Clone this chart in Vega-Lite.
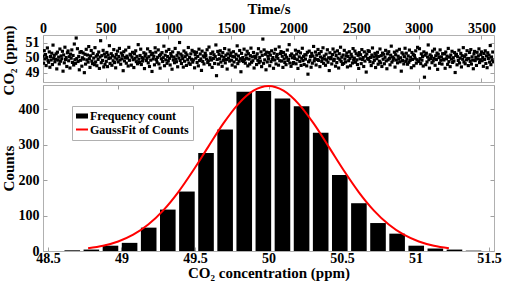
{
"$schema":"https://vega.github.io/schema/vega-lite/v6.json",
"background":"white",
"padding":{"left":0,"top":1,"right":0,"bottom":0},
"spacing":3,
"bounds":"flush",
"config":{
"view":{"stroke":"#b0b0b0"},
"axis":{"domain":false,"grid":false,"tickSize":-4,"tickColor":"#a0a0a0","labelFont":"Liberation Serif","labelFontSize":14,"labelFontWeight":"bold","labelColor":"#000","titleFont":"Liberation Serif","titleFontSize":15,"titleFontWeight":"bold","titleColor":"#000","labelFlush":false,"labelOverlap":false}
},
"datasets":{
"series":[
{"t":0,"c":50.12},{"t":5,"c":49.65},{"t":10,"c":50.48},{"t":15,"c":49.93},{"t":20,"c":50.22},{"t":25,"c":49.49},{"t":30,"c":50.03},{"t":35,"c":50.66},{"t":40,"c":49.82},{"t":45,"c":49.71},{"t":50,"c":50.40},{"t":55,"c":49.38},{"t":60,"c":50.09},{"t":65,"c":49.86},{"t":70,"c":50.31},{"t":75,"c":49.56},{"t":80,"c":50.85},{"t":85,"c":49.97},{"t":90,"c":50.17},{"t":95,"c":49.74},
{"t":100,"c":49.91},{"t":105,"c":50.27},{"t":110,"c":49.27},{"t":115,"c":50.38},{"t":120,"c":49.85},{"t":125,"c":50.05},{"t":130,"c":49.60},{"t":135,"c":50.59},{"t":140,"c":49.78},{"t":145,"c":50.13},{"t":150,"c":49.94},{"t":155,"c":50.44},{"t":160,"c":49.12},{"t":165,"c":50.20},{"t":170,"c":49.67},{"t":175,"c":50.71},{"t":180,"c":49.89},{"t":185,"c":50.02},{"t":190,"c":49.43},{"t":195,"c":50.34},
{"t":200,"c":50.46},{"t":205,"c":49.81},{"t":210,"c":50.08},{"t":215,"c":49.33},{"t":220,"c":50.25},{"t":225,"c":49.98},{"t":230,"c":50.53},{"t":235,"c":49.70},{"t":240,"c":50.16},{"t":245,"c":49.53},{"t":250,"c":50.92},{"t":255,"c":49.88},{"t":260,"c":49.64},{"t":265,"c":51.32},{"t":270,"c":49.96},{"t":275,"c":50.61},{"t":280,"c":49.76},{"t":285,"c":50.10},{"t":290,"c":49.21},{"t":295,"c":50.37},
{"t":300,"c":49.84},{"t":305,"c":50.42},{"t":310,"c":49.45},{"t":315,"c":50.01},{"t":320,"c":50.33},{"t":325,"c":49.92},{"t":330,"c":49.02},{"t":335,"c":50.24},{"t":340,"c":49.59},{"t":345,"c":50.57},{"t":350,"c":49.87},{"t":355,"c":50.19},{"t":360,"c":49.72},{"t":365,"c":50.75},{"t":370,"c":49.95},{"t":375,"c":49.37},{"t":380,"c":50.14},{"t":385,"c":50.49},{"t":390,"c":49.79},{"t":395,"c":49.62},
{"t":400,"c":50.30},{"t":405,"c":49.99},{"t":410,"c":49.55},{"t":415,"c":50.68},{"t":420,"c":49.73},{"t":425,"c":50.11},{"t":430,"c":49.48},{"t":435,"c":50.21},{"t":440,"c":49.90},{"t":445,"c":50.39},{"t":450,"c":49.30},{"t":455,"c":50.06},{"t":460,"c":51.14},{"t":465,"c":49.68},{"t":470,"c":50.15},{"t":475,"c":49.83},{"t":480,"c":50.50},{"t":485,"c":49.40},{"t":490,"c":50.26},{"t":495,"c":49.57},
{"t":500,"c":50.07},{"t":505,"c":49.77},{"t":510,"c":50.36},{"t":515,"c":49.42},{"t":520,"c":50.18},{"t":525,"c":49.96},{"t":530,"c":50.81},{"t":535,"c":49.63},{"t":540,"c":50.00},{"t":545,"c":50.28},{"t":550,"c":49.51},{"t":555,"c":50.14},{"t":560,"c":49.81},{"t":565,"c":50.55},{"t":570,"c":49.69},{"t":575,"c":50.04},{"t":580,"c":49.34},{"t":585,"c":50.23},{"t":590,"c":49.92},{"t":595,"c":50.45},
{"t":600,"c":49.73},{"t":605,"c":50.09},{"t":610,"c":50.63},{"t":615,"c":49.86},{"t":620,"c":49.58},{"t":625,"c":50.32},{"t":630,"c":49.94},{"t":635,"c":50.17},{"t":640,"c":49.15},{"t":645,"c":50.41},{"t":650,"c":49.80},{"t":655,"c":50.03},{"t":660,"c":50.52},{"t":665,"c":49.65},{"t":670,"c":50.12},{"t":675,"c":49.99},{"t":680,"c":49.46},{"t":685,"c":50.70},{"t":690,"c":49.84},{"t":695,"c":50.24},
{"t":700,"c":50.19},{"t":705,"c":49.52},{"t":710,"c":50.05},{"t":715,"c":50.37},{"t":720,"c":49.88},{"t":725,"c":49.36},{"t":730,"c":50.28},{"t":735,"c":49.97},{"t":740,"c":50.47},{"t":745,"c":49.75},{"t":750,"c":50.10},{"t":755,"c":49.61},{"t":760,"c":50.88},{"t":765,"c":49.91},{"t":770,"c":49.70},{"t":775,"c":50.16},{"t":780,"c":50.58},{"t":785,"c":49.56},{"t":790,"c":50.02},{"t":795,"c":49.79},
{"t":800,"c":49.95},{"t":805,"c":50.34},{"t":810,"c":49.29},{"t":815,"c":50.13},{"t":820,"c":50.26},{"t":825,"c":49.82},{"t":830,"c":49.98},{"t":835,"c":50.60},{"t":840,"c":49.67},{"t":845,"c":50.08},{"t":850,"c":49.43},{"t":855,"c":50.42},{"t":860,"c":49.85},{"t":865,"c":50.21},{"t":870,"c":49.10},{"t":875,"c":50.31},{"t":880,"c":49.93},{"t":885,"c":50.11},{"t":890,"c":49.54},{"t":895,"c":50.67},
{"t":900,"c":50.38},{"t":905,"c":49.89},{"t":910,"c":49.71},{"t":915,"c":50.04},{"t":920,"c":50.53},{"t":925,"c":49.60},{"t":930,"c":50.15},{"t":935,"c":49.32},{"t":940,"c":50.24},{"t":945,"c":49.94},{"t":950,"c":50.35},{"t":955,"c":49.76},{"t":960,"c":50.01},{"t":965,"c":50.78},{"t":970,"c":49.48},{"t":975,"c":50.18},{"t":980,"c":49.87},{"t":985,"c":50.44},{"t":990,"c":49.64},{"t":995,"c":50.09},
{"t":1000,"c":49.80},{"t":1005,"c":50.56},{"t":1010,"c":49.97},{"t":1015,"c":49.53},{"t":1020,"c":50.29},{"t":1025,"c":50.11},{"t":1030,"c":49.25},{"t":1035,"c":50.40},{"t":1040,"c":49.86},{"t":1045,"c":50.06},{"t":1050,"c":49.68},{"t":1055,"c":50.63},{"t":1060,"c":49.92},{"t":1065,"c":49.74},{"t":1070,"c":50.17},{"t":1075,"c":49.41},{"t":1080,"c":50.34},{"t":1085,"c":49.99},{"t":1090,"c":51.02},{"t":1095,"c":49.83},
{"t":1100,"c":50.25},{"t":1105,"c":49.63},{"t":1110,"c":50.14},{"t":1115,"c":49.95},{"t":1120,"c":49.39},{"t":1125,"c":50.46},{"t":1130,"c":49.78},{"t":1135,"c":50.08},{"t":1140,"c":50.33},{"t":1145,"c":49.50},{"t":1150,"c":50.20},{"t":1155,"c":49.88},{"t":1160,"c":50.69},{"t":1165,"c":49.66},{"t":1170,"c":50.03},{"t":1175,"c":49.57},{"t":1180,"c":50.27},{"t":1185,"c":49.91},{"t":1190,"c":50.50},{"t":1195,"c":49.72},
{"t":1200,"c":49.87},{"t":1205,"c":50.41},{"t":1210,"c":49.34},{"t":1215,"c":50.22},{"t":1220,"c":49.98},{"t":1225,"c":50.37},{"t":1230,"c":49.70},{"t":1235,"c":50.10},{"t":1240,"c":49.47},{"t":1245,"c":50.58},{"t":1250,"c":49.82},{"t":1255,"c":50.26},{"t":1260,"c":49.93},{"t":1265,"c":49.17},{"t":1270,"c":50.45},{"t":1275,"c":49.76},{"t":1280,"c":50.13},{"t":1285,"c":49.60},{"t":1290,"c":50.06},{"t":1295,"c":50.31},
{"t":1300,"c":50.16},{"t":1305,"c":49.92},{"t":1310,"c":50.54},{"t":1315,"c":49.69},{"t":1320,"c":49.81},{"t":1325,"c":50.72},{"t":1330,"c":49.55},{"t":1335,"c":50.01},{"t":1340,"c":50.28},{"t":1345,"c":49.86},{"t":1350,"c":49.37},{"t":1355,"c":50.39},{"t":1360,"c":49.96},{"t":1365,"c":50.21},{"t":1370,"c":49.63},{"t":1375,"c":50.09},{"t":1380,"c":50.86},{"t":1385,"c":48.82},{"t":1390,"c":49.90},{"t":1395,"c":50.43},
{"t":1400,"c":49.59},{"t":1405,"c":50.23},{"t":1410,"c":49.94},{"t":1415,"c":50.47},{"t":1420,"c":49.72},{"t":1425,"c":50.12},{"t":1430,"c":49.44},{"t":1435,"c":50.35},{"t":1440,"c":49.84},{"t":1445,"c":50.04},{"t":1450,"c":50.62},{"t":1455,"c":49.67},{"t":1460,"c":50.18},{"t":1465,"c":49.89},{"t":1470,"c":49.26},{"t":1475,"c":50.27},{"t":1480,"c":49.98},{"t":1485,"c":50.52},{"t":1490,"c":49.79},{"t":1495,"c":50.15},
{"t":1500,"c":50.33},{"t":1505,"c":49.85},{"t":1510,"c":49.52},{"t":1515,"c":50.10},{"t":1520,"c":50.41},{"t":1525,"c":49.73},{"t":1530,"c":50.06},{"t":1535,"c":49.40},{"t":1540,"c":50.24},{"t":1545,"c":49.91},{"t":1550,"c":50.80},{"t":1555,"c":49.62},{"t":1560,"c":50.13},{"t":1565,"c":49.78},{"t":1570,"c":50.49},{"t":1575,"c":49.95},{"t":1580,"c":49.08},{"t":1585,"c":50.30},{"t":1590,"c":49.83},{"t":1595,"c":50.02},
{"t":1600,"c":49.76},{"t":1605,"c":50.58},{"t":1610,"c":49.88},{"t":1615,"c":49.65},{"t":1620,"c":50.19},{"t":1625,"c":49.97},{"t":1630,"c":50.44},{"t":1635,"c":49.47},{"t":1640,"c":50.28},{"t":1645,"c":49.92},{"t":1650,"c":49.59},{"t":1655,"c":50.15},{"t":1660,"c":50.65},{"t":1665,"c":49.71},{"t":1670,"c":50.07},{"t":1675,"c":49.81},{"t":1680,"c":50.36},{"t":1685,"c":49.33},{"t":1690,"c":50.11},{"t":1695,"c":49.99},
{"t":1700,"c":50.09},{"t":1705,"c":49.56},{"t":1710,"c":50.27},{"t":1715,"c":49.84},{"t":1720,"c":50.61},{"t":1725,"c":49.68},{"t":1730,"c":50.03},{"t":1735,"c":49.79},{"t":1740,"c":50.40},{"t":1745,"c":49.42},{"t":1750,"c":50.17},{"t":1755,"c":51.25},{"t":1760,"c":49.64},{"t":1765,"c":50.53},{"t":1770,"c":49.87},{"t":1775,"c":50.24},{"t":1780,"c":49.21},{"t":1785,"c":50.38},{"t":1790,"c":49.73},{"t":1795,"c":50.12},
{"t":1800,"c":49.94},{"t":1805,"c":50.35},{"t":1810,"c":49.48},{"t":1815,"c":50.18},{"t":1820,"c":49.75},{"t":1825,"c":50.47},{"t":1830,"c":49.89},{"t":1835,"c":50.02},{"t":1840,"c":49.31},{"t":1845,"c":50.31},{"t":1850,"c":49.86},{"t":1855,"c":50.57},{"t":1860,"c":49.60},{"t":1865,"c":50.08},{"t":1870,"c":50.23},{"t":1875,"c":49.97},{"t":1880,"c":49.52},{"t":1885,"c":50.73},{"t":1890,"c":49.81},{"t":1895,"c":50.29},
{"t":1900,"c":50.42},{"t":1905,"c":49.79},{"t":1910,"c":50.11},{"t":1915,"c":49.37},{"t":1920,"c":50.36},{"t":1925,"c":49.93},{"t":1930,"c":49.70},{"t":1935,"c":50.20},{"t":1940,"c":49.55},{"t":1945,"c":50.04},{"t":1950,"c":50.52},{"t":1955,"c":49.83},{"t":1960,"c":49.91},{"t":1965,"c":50.88},{"t":1970,"c":49.66},{"t":1975,"c":50.15},{"t":1980,"c":49.44},{"t":1985,"c":50.26},{"t":1990,"c":50.01},{"t":1995,"c":49.62},
{"t":2000,"c":49.69},{"t":2005,"c":50.14},{"t":2010,"c":49.96},{"t":2015,"c":50.51},{"t":2020,"c":49.61},{"t":2025,"c":50.26},{"t":2030,"c":49.88},{"t":2035,"c":49.30},{"t":2040,"c":50.43},{"t":2045,"c":50.07},{"t":2050,"c":49.77},{"t":2055,"c":50.33},{"t":2060,"c":49.50},{"t":2065,"c":49.98},{"t":2070,"c":50.64},{"t":2075,"c":49.82},{"t":2080,"c":50.10},{"t":2085,"c":49.56},{"t":2090,"c":50.21},{"t":2095,"c":49.92},
{"t":2100,"c":50.20},{"t":2105,"c":49.47},{"t":2110,"c":50.37},{"t":2115,"c":48.92},{"t":2120,"c":49.74},{"t":2125,"c":50.45},{"t":2130,"c":49.85},{"t":2135,"c":50.09},{"t":2140,"c":49.38},{"t":2145,"c":50.30},{"t":2150,"c":49.65},{"t":2155,"c":50.12},{"t":2160,"c":50.76},{"t":2165,"c":49.80},{"t":2170,"c":49.95},{"t":2175,"c":50.39},{"t":2180,"c":49.53},{"t":2185,"c":50.18},{"t":2190,"c":49.89},{"t":2195,"c":50.56},
{"t":2200,"c":49.83},{"t":2205,"c":50.29},{"t":2210,"c":49.42},{"t":2215,"c":50.06},{"t":2220,"c":50.42},{"t":2225,"c":49.76},{"t":2230,"c":49.97},{"t":2235,"c":50.67},{"t":2240,"c":49.64},{"t":2245,"c":50.13},{"t":2250,"c":49.92},{"t":2255,"c":49.51},{"t":2260,"c":50.25},{"t":2265,"c":49.86},{"t":2270,"c":50.54},{"t":2275,"c":49.71},{"t":2280,"c":50.01},{"t":2285,"c":49.16},{"t":2290,"c":50.34},{"t":2295,"c":49.94},
{"t":2300,"c":50.03},{"t":2305,"c":49.60},{"t":2310,"c":50.22},{"t":2315,"c":50.59},{"t":2320,"c":49.82},{"t":2325,"c":49.91},{"t":2330,"c":50.38},{"t":2335,"c":49.45},{"t":2340,"c":50.16},{"t":2345,"c":49.69},{"t":2350,"c":50.47},{"t":2355,"c":49.98},{"t":2360,"c":49.33},{"t":2365,"c":50.28},{"t":2370,"c":49.88},{"t":2375,"c":50.71},{"t":2380,"c":49.77},{"t":2385,"c":50.05},{"t":2390,"c":49.57},{"t":2395,"c":50.19},
{"t":2400,"c":49.64},{"t":2405,"c":50.50},{"t":2410,"c":49.93},{"t":2415,"c":49.73},{"t":2420,"c":50.14},{"t":2425,"c":50.33},{"t":2430,"c":49.40},{"t":2435,"c":50.09},{"t":2440,"c":49.81},{"t":2445,"c":50.41},{"t":2450,"c":49.96},{"t":2455,"c":49.48},{"t":2460,"c":50.24},{"t":2465,"c":50.08},{"t":2470,"c":49.66},{"t":2475,"c":50.62},{"t":2480,"c":49.85},{"t":2485,"c":49.99},{"t":2490,"c":50.45},{"t":2495,"c":49.71},
{"t":2500,"c":50.28},{"t":2505,"c":49.87},{"t":2510,"c":49.56},{"t":2515,"c":50.17},{"t":2520,"c":49.30},{"t":2525,"c":50.35},{"t":2530,"c":49.94},{"t":2535,"c":50.21},{"t":2540,"c":49.62},{"t":2545,"c":50.55},{"t":2550,"c":49.89},{"t":2555,"c":50.02},{"t":2560,"c":49.43},{"t":2565,"c":50.40},{"t":2570,"c":49.79},{"t":2575,"c":50.12},{"t":2580,"c":49.06},{"t":2585,"c":50.26},{"t":2590,"c":49.97},{"t":2595,"c":50.48},
{"t":2600,"c":49.90},{"t":2605,"c":50.43},{"t":2610,"c":49.75},{"t":2615,"c":50.03},{"t":2620,"c":49.49},{"t":2625,"c":50.19},{"t":2630,"c":50.66},{"t":2635,"c":49.68},{"t":2640,"c":50.07},{"t":2645,"c":49.84},{"t":2650,"c":50.30},{"t":2655,"c":49.36},{"t":2660,"c":50.15},{"t":2665,"c":49.95},{"t":2670,"c":50.37},{"t":2675,"c":49.58},{"t":2680,"c":50.10},{"t":2685,"c":49.78},{"t":2690,"c":50.59},{"t":2695,"c":49.67},
{"t":2700,"c":50.15},{"t":2705,"c":49.43},{"t":2710,"c":50.32},{"t":2715,"c":49.91},{"t":2720,"c":50.24},{"t":2725,"c":49.61},{"t":2730,"c":50.04},{"t":2735,"c":50.50},{"t":2740,"c":49.80},{"t":2745,"c":49.28},{"t":2750,"c":50.27},{"t":2755,"c":49.87},{"t":2760,"c":50.41},{"t":2765,"c":49.97},{"t":2770,"c":49.54},{"t":2775,"c":50.18},{"t":2780,"c":50.78},{"t":2785,"c":49.72},{"t":2790,"c":50.06},{"t":2795,"c":49.85},
{"t":2800,"c":49.98},{"t":2805,"c":50.38},{"t":2810,"c":49.39},{"t":2815,"c":50.21},{"t":2820,"c":49.86},{"t":2825,"c":50.46},{"t":2830,"c":49.67},{"t":2835,"c":50.11},{"t":2840,"c":49.93},{"t":2845,"c":50.57},{"t":2850,"c":49.74},{"t":2855,"c":50.01},{"t":2860,"c":49.12},{"t":2865,"c":50.34},{"t":2870,"c":49.82},{"t":2875,"c":50.25},{"t":2880,"c":49.60},{"t":2885,"c":50.08},{"t":2890,"c":50.64},{"t":2895,"c":49.77},
{"t":2900,"c":50.31},{"t":2905,"c":49.92},{"t":2910,"c":49.58},{"t":2915,"c":50.13},{"t":2920,"c":49.71},{"t":2925,"c":50.52},{"t":2930,"c":49.83},{"t":2935,"c":50.04},{"t":2940,"c":49.35},{"t":2945,"c":50.36},{"t":2950,"c":49.90},{"t":2955,"c":50.23},{"t":2960,"c":49.48},{"t":2965,"c":50.16},{"t":2970,"c":49.98},{"t":2975,"c":50.47},{"t":2980,"c":49.65},{"t":2985,"c":49.88},{"t":2990,"c":50.70},{"t":2995,"c":49.76},
{"t":3000,"c":49.78},{"t":3005,"c":50.61},{"t":3010,"c":49.95},{"t":3015,"c":49.62},{"t":3020,"c":50.27},{"t":3025,"c":49.85},{"t":3030,"c":50.09},{"t":3035,"c":49.46},{"t":3040,"c":50.40},{"t":3045,"c":48.72},{"t":3050,"c":50.18},{"t":3055,"c":49.55},{"t":3060,"c":50.31},{"t":3065,"c":49.73},{"t":3070,"c":50.06},{"t":3075,"c":50.86},{"t":3080,"c":49.88},{"t":3085,"c":49.32},{"t":3090,"c":50.20},{"t":3095,"c":49.96},
{"t":3100,"c":50.11},{"t":3105,"c":49.68},{"t":3110,"c":50.45},{"t":3115,"c":49.80},{"t":3120,"c":49.97},{"t":3125,"c":50.58},{"t":3130,"c":49.51},{"t":3135,"c":50.14},{"t":3140,"c":49.89},{"t":3145,"c":50.32},{"t":3150,"c":49.24},{"t":3155,"c":50.24},{"t":3160,"c":50.02},{"t":3165,"c":49.64},{"t":3170,"c":50.53},{"t":3175,"c":49.84},{"t":3180,"c":50.07},{"t":3185,"c":49.59},{"t":3190,"c":50.28},{"t":3195,"c":49.91},
{"t":3200,"c":49.86},{"t":3205,"c":50.27},{"t":3210,"c":49.31},{"t":3215,"c":50.39},{"t":3220,"c":49.94},{"t":3225,"c":50.12},{"t":3230,"c":49.57},{"t":3235,"c":50.63},{"t":3240,"c":49.75},{"t":3245,"c":50.05},{"t":3250,"c":49.42},{"t":3255,"c":50.19},{"t":3260,"c":49.92},{"t":3265,"c":50.44},{"t":3270,"c":49.70},{"t":3275,"c":50.01},{"t":3280,"c":49.79},{"t":3285,"c":50.35},{"t":3290,"c":49.03},{"t":3295,"c":50.16},
{"t":3300,"c":50.24},{"t":3305,"c":49.54},{"t":3310,"c":50.08},{"t":3315,"c":49.83},{"t":3320,"c":50.51},{"t":3325,"c":49.66},{"t":3330,"c":49.98},{"t":3335,"c":50.30},{"t":3340,"c":49.40},{"t":3345,"c":50.15},{"t":3350,"c":49.91},{"t":3355,"c":50.68},{"t":3360,"c":49.73},{"t":3365,"c":50.10},{"t":3370,"c":49.61},{"t":3375,"c":50.21},{"t":3380,"c":49.87},{"t":3385,"c":50.48},{"t":3390,"c":49.95},{"t":3395,"c":49.49},
{"t":3400,"c":49.96},{"t":3405,"c":50.36},{"t":3410,"c":49.77},{"t":3415,"c":50.55},{"t":3420,"c":49.59},{"t":3425,"c":50.07},{"t":3430,"c":49.85},{"t":3435,"c":49.28},{"t":3440,"c":50.26},{"t":3445,"c":50.43},{"t":3450,"c":49.82},{"t":3455,"c":50.03},{"t":3460,"c":49.50},{"t":3465,"c":50.37},{"t":3470,"c":49.93},{"t":3475,"c":50.14},{"t":3480,"c":50.60},{"t":3485,"c":49.69},{"t":3490,"c":49.88},{"t":3495,"c":50.22},
{"t":3500,"c":50.40},{"t":3505,"c":49.81},{"t":3510,"c":50.02},{"t":3515,"c":49.44},{"t":3520,"c":50.29},{"t":3525,"c":49.90},{"t":3530,"c":50.47},{"t":3535,"c":49.63},{"t":3540,"c":50.13},{"t":3545,"c":49.35},{"t":3550,"c":50.34},{"t":3555,"c":49.96},{"t":3560,"c":50.18},{"t":3565,"c":49.72},{"t":3570,"c":50.82},{"t":3575,"c":49.55},{"t":3580,"c":50.06},{"t":3585,"c":49.86},{"t":3590,"c":50.39},{"t":3595,"c":49.74}
],
"hist":[
{"v":48.665,"n":2},{"v":48.795,"n":4},{"v":48.925,"n":15},{"v":49.055,"n":23},{"v":49.185,"n":66},{"v":49.315,"n":117},{"v":49.445,"n":168},{"v":49.575,"n":277},{"v":49.705,"n":343},{"v":49.835,"n":450},{"v":49.965,"n":452},{"v":50.095,"n":431},{"v":50.225,"n":409},{"v":50.355,"n":334},{"v":50.485,"n":215},{"v":50.615,"n":135},{"v":50.745,"n":79},{"v":50.875,"n":49},{"v":51.005,"n":15},{"v":51.135,"n":7},{"v":51.265,"n":4},{"v":51.395,"n":1}
],
"fit":[
{"x":48.8,"y":7.6},{"x":48.9,"y":14.7},{"x":49.0,"y":26.8},{"x":49.1,"y":46.0},{"x":49.2,"y":74.8},{"x":49.3,"y":114.9},{"x":49.4,"y":166.6},{"x":49.5,"y":228.1},{"x":49.6,"y":295.0},{"x":49.7,"y":360.4},{"x":49.8,"y":415.7},{"x":49.9,"y":452.9},{"x":50.0,"y":466},{"x":50.1,"y":452.9},{"x":50.2,"y":415.7},{"x":50.3,"y":360.4},{"x":50.4,"y":295.0},{"x":50.5,"y":228.1},{"x":50.6,"y":166.6},{"x":50.7,"y":114.9},{"x":50.8,"y":74.8},{"x":50.9,"y":46.0},{"x":51.0,"y":26.8},{"x":51.1,"y":14.7},{"x":51.2,"y":7.6}
]
},
"resolve":{"legend":{"color":"independent"},"scale":{"color":"independent"}},
"vconcat":[
{
"width":451,"height":47,
"data":{"name":"series"},
"layer":[
{"mark":{"type":"square","size":10,"color":"black","opacity":1,"clip":true},
"encoding":{
"x":{"field":"t","type":"quantitative","scale":{"domain":[0,3600],"nice":false},"axis":{"orient":"top","title":"Time/s","values":[0,500,1000,1500,2000,2500,3000,3500],"format":".4~g","labelPadding":4,"titleY":-21.5,"titleBaseline":"alphabetic"}},
"y":{"field":"c","type":"quantitative","scale":{"domain":[48.4,51.52],"nice":false,"zero":false},"axis":{"title":"CO₂ (ppm)","values":[49,50,51],"format":".4~g","labelPadding":8,"titleX":-30,"titleY":25,"titleBaseline":"alphabetic"}}
}},
{"mark":{"type":"square","size":1,"opacity":0},
"encoding":{
"x":{"field":"t","type":"quantitative","scale":{"domain":[0,3600],"nice":false},"axis":{"orient":"bottom","title":null,"labels":false,"values":[0,500,1000,1500,2000,2500,3000,3500]}},
"y":{"field":"c","type":"quantitative","scale":{"domain":[48.4,51.52],"nice":false,"zero":false},"axis":{"orient":"right","title":null,"labels":false,"values":[49,50,51]}}
}}
],
"resolve":{"scale":{"x":"independent","y":"independent"}}
},
{
"width":451,"height":166,
"layer":[
{"data":{"name":"hist"},
"mark":{"type":"bar","width":15.6,"color":"black"},
"encoding":{
"x":{"field":"v","type":"quantitative","scale":{"domain":[48.5,51.5],"nice":false,"zero":false},"axis":{"title":"CO₂ concentration (ppm)","values":[48.5,49,49.5,50,50.5,51,51.5],"format":".4~g","labelPadding":4,"titleY":26,"titleBaseline":"alphabetic"}},
"y":{"field":"n","type":"quantitative","scale":{"domain":[0,469],"nice":false},"axis":{"title":"Counts","values":[0,100,200,300,400],"format":".4~g","labelPadding":8,"titleX":-30,"titleBaseline":"alphabetic"}},
"color":{"datum":"Frequency count","type":"nominal","scale":{"domain":["Frequency count","GaussFit of Counts"],"range":["black","#ff0000"]},
"legend":{"title":null,"orient":"none","legendX":29,"legendY":21,"strokeColor":"#b0b0b0","fillColor":"white","padding":4,"labelFont":"Liberation Serif","labelFontWeight":"bold","labelFontSize":12,"labelColor":"black","symbolSize":144,"rowPadding":1.5,"labelOffset":2,
"encode":{"symbols":{"update":{
"shape":{"signal":"datum.value === 'GaussFit of Counts' ? 'stroke' : 'M-1,-0.42H1V0.42H-1Z'"},
"fill":{"signal":"datum.value === 'GaussFit of Counts' ? 'transparent' : 'black'"},
"stroke":{"signal":"datum.value === 'GaussFit of Counts' ? '#ff0000' : 'black'"},
"strokeWidth":{"signal":"datum.value === 'GaussFit of Counts' ? 2 : 0"},
"opacity":{"value":1},"fillOpacity":{"value":1},"strokeOpacity":{"value":1}}}}}}
}},
{"data":{"name":"fit"},
"mark":{"type":"line","strokeWidth":2,"interpolate":"monotone"},
"encoding":{
"x":{"field":"x","type":"quantitative","scale":{"domain":[48.5,51.5],"nice":false,"zero":false},"axis":{"orient":"top","title":null,"labels":false,"values":[48.5,49,49.5,50,50.5,51,51.5]}},
"y":{"field":"y","type":"quantitative","scale":{"domain":[0,469],"nice":false},"axis":{"orient":"right","title":null,"labels":false,"values":[0,100,200,300,400]}},
"color":{"datum":"GaussFit of Counts","type":"nominal","scale":{"domain":["Frequency count","GaussFit of Counts"],"range":["black","#ff0000"]}}
}}
],
"resolve":{"scale":{"x":"independent","y":"independent"}}
}
]
}
